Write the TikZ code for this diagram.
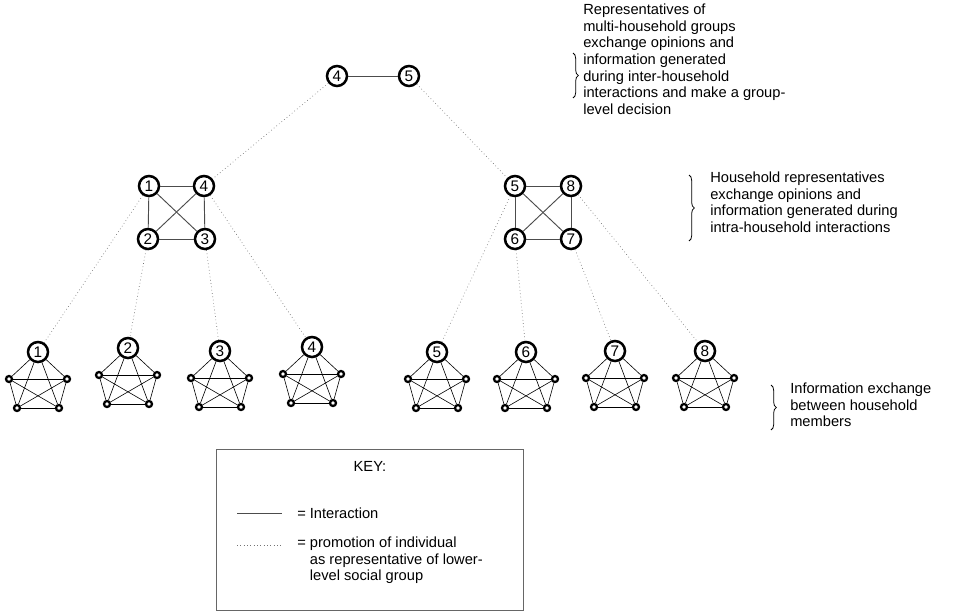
\documentclass[tikz,border=0pt]{standalone}
\usepackage{fontspec}
\setmainfont{Liberation Sans}
\usetikzlibrary{positioning,decorations.pathreplacing}

\begin{document}
\begin{tikzpicture}[x=0.75pt,y=-0.75pt]
        \tikzstyle{rep}=[circle,draw=black,fill=white,line width=1.9pt,minimum size=15pt,inner sep=0pt,font=\fontsize{11.5}{11.5}\selectfont]
        \tikzstyle{member}=[circle,draw=black,fill=white,line width=1.7pt,minimum size=4.5pt,inner sep=0pt]
        \tikzstyle{interact}=[draw=black!70,line width=0.7pt]
        \tikzstyle{bond}=[draw=black,line width=0.45pt]
        \tikzstyle{promote}=[draw=black!55,dotted,line width=0.5pt]
        \tikzstyle{annot}=[anchor=north west,align=left,inner sep=0pt,font=\fontsize{11}{12.4}\selectfont]
        \tikzstyle{grp}=[decorate,decoration={brace,amplitude=4pt},line width=0.6pt]

        \useasboundingbox (0,0) rectangle (959,615);

        % Group level
        \node[rep] (G-4) at (337,76) {4};
        \node[rep] (G-5) at (409,76) {5};
        \path[interact] (G-4) edge (G-5);

        % Household representatives
        \foreach \name / \x / \y in {1/149/186, 4/204/186, 2/148/239, 3/205/239,
                                     5/515/186, 8/571/186, 6/515/239, 7/571/239}
            \node[rep] (H-\name) at (\x,\y) {\name};

        \foreach \source / \dest in {1/4,1/2,4/3,2/3,1/3,2/4,5/8,5/6,8/7,6/7,5/7,6/8}
            \path[interact] (H-\source) edge (H-\dest);

        % Household members
        \foreach \name / \x / \y in {1/38/352, 2/128/348, 3/220/351, 4/312/347,
                                     5/437/352, 6/526/352, 7/615/351, 8/705/351}{
            \node[rep] (M\name-1) at (\x,\y) {\name};
            \node[member] (M\name-2) at (\x+29,\y+27) {};
            \node[member] (M\name-3) at (\x+21,\y+56) {};
            \node[member] (M\name-4) at (\x-21,\y+56) {};
            \node[member] (M\name-5) at (\x-29,\y+27) {};
        }

        \foreach \name in {1,...,8}
            \foreach \source / \dest in {1/2,1/3,1/4,1/5,2/3,2/4,2/5,3/4,3/5,4/5}
                \path[bond] (M\name-\source) edge (M\name-\dest);

        % Promotion to the level above
        \path[promote] (G-4) edge (H-4);
        \path[promote] (G-5) edge (H-5);
        \foreach \name in {1,...,8}
            \path[promote] (H-\name) edge (M\name-1);

        % Annotate the levels
        \node[annot] (ann-group) at (583,4) {Representatives of\\multi-household groups\\exchange opinions and\\information generated\\during inter-household\\interactions and make a group-\\level decision};
        \node[annot] (ann-house) at (710,172) {Household representatives\\exchange opinions and\\information generated during\\intra-household interactions};
        \node[annot] (ann-member) at (790,383) {Information exchange\\between household\\members};
        \coordinate (b1-top) at (573,53);
        \coordinate (b1-bot) at (573,98);
        \coordinate (b2-top) at (689,175);
        \coordinate (b2-bot) at (689,241);
        \coordinate (b3-top) at (771,385);
        \coordinate (b3-bot) at (771,430);
        \draw[grp] (b1-top) -- (b1-bot);
        \draw[grp] (b2-top) -- (b2-bot);
        \draw[grp] (b3-top) -- (b3-bot);

        % Key
        \node[draw=black!60,line width=0.5pt,minimum width=230.25pt,minimum height=120.75pt,inner sep=0pt] (key) at (369.5,529.5) {};
        \node[font=\fontsize{11}{12}\selectfont] (key-title) at (370,466) {KEY:};
        \coordinate (k1-a) at (237,513);
        \coordinate (k1-b) at (282,513);
        \coordinate (k2-a) at (237,545);
        \coordinate (k2-b) at (282,545);
        \draw[interact] (k1-a) -- (k1-b);
        \draw[promote] (k2-a) -- (k2-b);
        \node[annot,anchor=west] (key-int) at (297,513) {= Interaction};
        \node[annot,anchor=north west] (key-prom) at (297,537) {= promotion of individual\\\hphantom{= }as representative of lower-\\\hphantom{= }level social group};

    \end{tikzpicture}
\end{document}
